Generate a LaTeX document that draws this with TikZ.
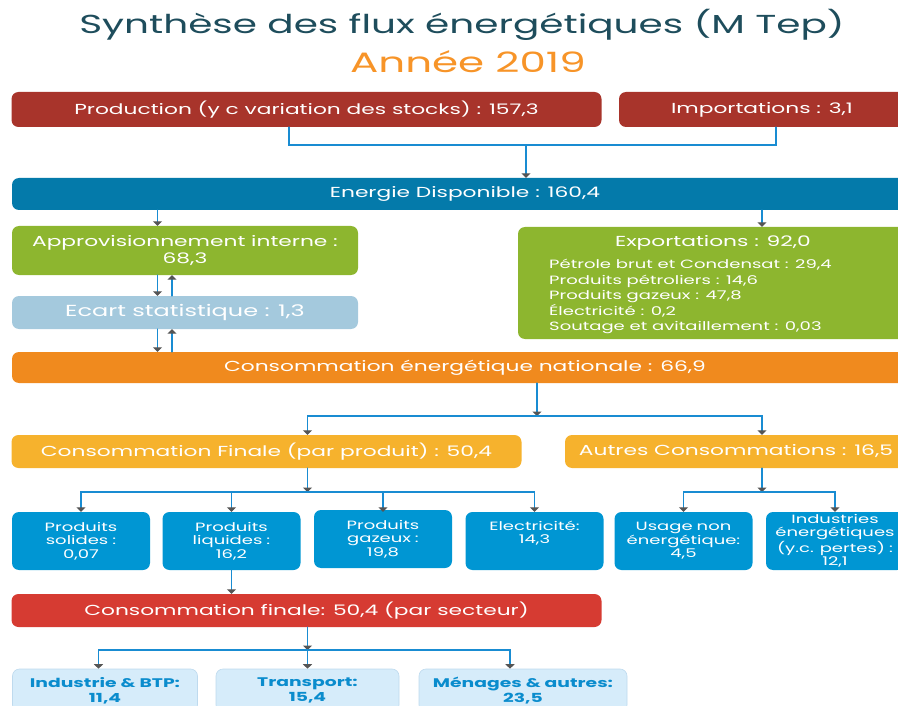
\documentclass[tikz,border=0pt]{standalone}
\usepackage{fontspec}
\setmainfont{Poppins}[FakeStretch=1.5]
\usetikzlibrary{arrows.meta}
\definecolor{Tcol}{RGB}{30,77,92}
\definecolor{Ycol}{RGB}{247,148,40}
\definecolor{Rfill}{RGB}{168,52,43}
\definecolor{Efill}{RGB}{4,122,170}
\definecolor{Gfill}{RGB}{141,182,47}
\definecolor{Sfill}{RGB}{164,201,221}
\definecolor{Ofill}{RGB}{240,138,30}
\definecolor{Yfill}{RGB}{246,178,45}
\definecolor{Pfill}{RGB}{0,150,211}
\definecolor{Cfill}{RGB}{214,59,50}
\definecolor{Lfill}{RGB}{214,236,250}
\definecolor{Ledge}{RGB}{190,218,238}
\definecolor{Ltext}{RGB}{10,140,205}
\definecolor{Lcol}{RGB}{25,140,210}
\definecolor{Tipcol}{RGB}{85,85,85}

\begin{document}
\begin{tikzpicture}[x=1pt,y=-1pt,line cap=round,
  box/.style={rounded corners=7pt,text=white,align=center,inner sep=2pt,font=\fontsize{14.5}{17}\selectfont},
  cell/.style={box,fill=Pfill,minimum width=136pt,minimum height=58pt,text width=134pt,font=\fontsize{12}{13.5}\selectfont},
  sector/.style={box,fill=Lfill,draw=Ledge,line width=0.6pt,text=Ltext,minimum height=43pt,font=\bfseries\fontsize{12.5}{15}\selectfont},
  link/.style={draw=Lcol,line width=1.6pt},
  arr/.style={link,-{Triangle[width=9pt,length=4.5pt,color=Tipcol]}}]
\path[use as bounding box] (0,0) rectangle (898,706);
\clip (0,0) rectangle (898,706);
% titles
\node[text=Tcol,font=\fontsize{26}{30}\selectfont] (title) at (462,25) {Synthèse des flux énergétiques (M Tep)};
\node[text=Ycol,font=\fontsize{28}{30}\selectfont] (year) at (468,62) {Année 2019};
% sources
\node[box,fill=Rfill,minimum width=590pt,minimum height=35pt] (prod) at (306.5,109.5) {Production (y c variation des stocks) : 157,3};
\node[box,fill=Rfill,minimum width=286pt,minimum height=35pt] (imp) at (762,109.5) {Importations : 3,1};
\node[box,fill=Efill,minimum width=906pt,minimum height=32pt] (nrj) at (465,194) {Energie Disponible : 160,4};
\coordinate (jnrj) at (526,145);
\draw[link] ([xshift=-17.5pt]prod.south) |- ([xshift=14pt]imp.south |- jnrj) -- ([xshift=14pt]imp.south);
\draw[arr] (jnrj) -- (nrj.north -| jnrj);
% second level
\node[box,fill=Gfill,minimum width=346pt,minimum height=49pt] (appro) at (185,250.5) {Approvisionnement interne :\\68,3};
\node[box,fill=Gfill,minimum width=392pt,minimum height=112pt] (expo) at (714,283) {};
\node[text=white,font=\fontsize{14.5}{17}\selectfont] (expotitle) at (713,243) {Exportations : 92,0};
\node[text=white,align=left,anchor=north west,inner sep=0pt,font=\fontsize{12}{15.5}\selectfont] (expolist) at (549,259) {Pétrole brut et Condensat : 29,4\\Produits pétroliers : 14,6\\Produits gazeux : 47,8\\Électricité : 0,2\\Soutage et avitaillement : 0,03};
\node[box,fill=Sfill,minimum width=346pt,minimum height=33pt,font=\fontsize{16}{18}\selectfont] (ecart) at (185,312.5) {Ecart statistique : 1,3};
\node[box,fill=Ofill,minimum width=906pt,minimum height=31pt] (cen) at (465,367.5) {Consommation énergétique nationale : 66,9};
\draw[arr] ([xshift=-27.5pt]appro.north |- nrj.south) -- ([xshift=-27.5pt]appro.north);
\draw[arr] ([xshift=48pt]expo.north |- nrj.south) -- ([xshift=48pt]expo.north);
\draw[arr] ([xshift=-27.5pt]appro.south) -- ([xshift=-27.5pt]ecart.north);
\draw[arr] ([xshift=-13pt]ecart.north) -- ([xshift=-13pt]appro.south);
\draw[arr] ([xshift=-27.5pt]ecart.south) -- ([xshift=-27.5pt]ecart.south |- cen.north);
\draw[arr] ([xshift=-13pt]ecart.south |- cen.north) -- ([xshift=-13pt]ecart.south);
% consumption split
\node[box,fill=Yfill,minimum width=510pt,minimum height=33pt] (cf) at (266.5,451.5) {Consommation Finale (par produit) : 50,4};
\node[box,fill=Yfill,minimum width=342pt,minimum height=33pt] (ac) at (736,451.5) {Autres Consommations : 16,5};
\coordinate (jcen) at (537,416);
\draw[arr] (cen.south -| jcen) -- (jcen);
\draw[arr] (jcen) -| ([xshift=41pt]cf.north);
\draw[arr] (jcen) -| ([xshift=26pt]ac.north);
% products
\node[cell] (ps) at (81,541) {Produits\\solides :\\0,07};
\node[cell] (pl) at (231.5,541) {Produits\\liquides :\\16,2};
\node[cell] (pg) at (383,539) {Produits\\gazeux :\\19,8};
\node[cell,minimum height=58pt] (el) at (534.5,541) {Electricité:\\14,3\\\strut};
\node[cell] (une) at (683.5,541) {Usage non\\énergétique:\\4,5};
\node[cell] (ie) at (835,541) {Industries\\énergétiques\\(y.c. pertes) :\\12,1};
\coordinate (jcf) at (307.5,492);
\coordinate (jac) at (762,492);
\draw[arr] ([xshift=41pt]cf.south) -- (jcf);
\draw[arr] (jcf) -| (ps.north);
\draw[arr] (jcf) -| (pl.north);
\draw[arr] (jcf) -| (pg.north |- ps.north);
\draw[arr] (jcf) -| (el.north);
\draw[arr] ([xshift=26pt]ac.south) -- (jac);
\draw[arr] (jac) -| (une.north);
\draw[arr] (jac) -| (ie.north);
% sectors
\node[box,fill=Cfill,minimum width=590pt,minimum height=33pt] (cfs) at (306.5,610.5) {Consommation finale: 50,4 (par secteur)};
\draw[arr] (pl.south) -- (pl.south |- cfs.north);
\node[sector,minimum width=185pt] (ind) at (105,690.5) {Industrie \& BTP:\\11,4};
\node[sector,minimum width=183pt] (tra) at (307.5,690.5) {Transport:\\15,4};
\node[sector,minimum width=208pt] (men) at (523,690.5) {Ménages \& autres:\\23,5};
\coordinate (jcfs) at (307.5,650);
\draw[arr] (cfs.south -| jcfs) -- (jcfs);
\draw[arr] (jcfs) -| ([xshift=-6.5pt]ind.north);
\draw[arr] (jcfs) -- (tra.north);
\draw[arr] (jcfs) -| ([xshift=-13pt]men.north);
\end{tikzpicture}
\end{document}
